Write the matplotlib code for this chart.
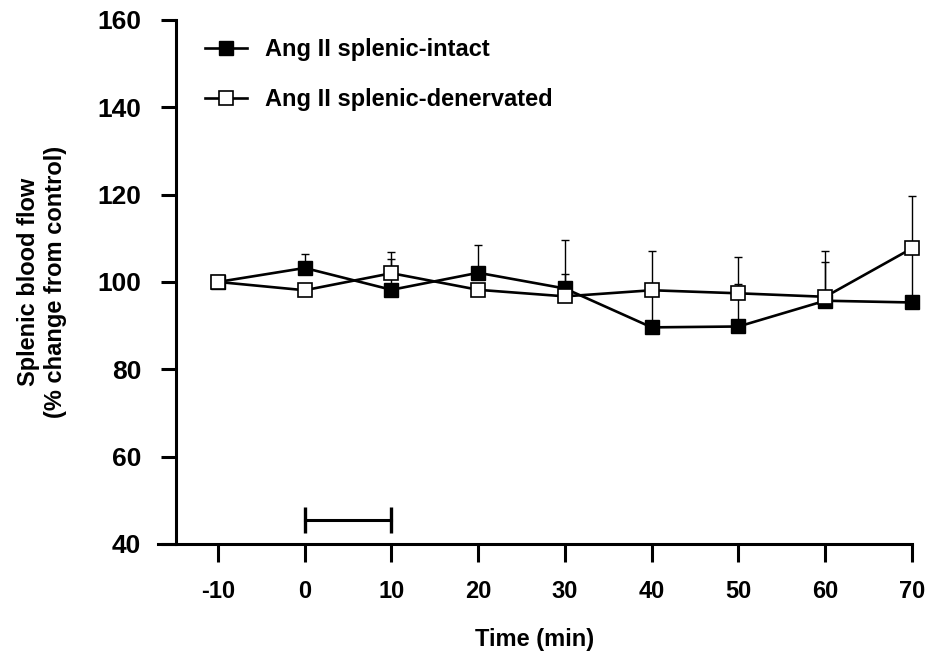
import matplotlib
matplotlib.use("Agg")
import matplotlib.pyplot as plt
import numpy as np

time = [-10, 0, 10, 20, 30, 40, 50, 60, 70]
intact = [100, 103.2, 98.2, 102.1, 98.5, 89.6, 89.8, 95.7, 95.3]
intact_err = [0, 3.2, 7.1, 6.3, 11.1, 8.6, 9.7, 8.9, 12.0]
dener = [100, 98.1, 102.0, 98.2, 96.7, 98.1, 97.4, 96.6, 107.7]
dener_err = [0, 0, 4.8, 0, 5.1, 9.0, 8.3, 10.5, 12.0]
xticks = [-10, 0, 10, 20, 30, 40, 50, 60, 70]
yticks = [40, 60, 80, 100, 120, 140, 160]
bar_x = [0, 10]
bar_y = [45.4, 45.4]

plt.rcParams['font.family'] = ['Liberation Sans', 'DejaVu Sans']
plt.rcParams['font.weight'] = 'bold'
plt.rcParams['axes.unicode_minus'] = False

fig = plt.figure(figsize=(9.32, 6.51), dpi=100)
ax = fig.add_axes([0.1695, 0.1644, 0.809, 0.805])

zeros = np.zeros(len(time))
for vals, errs in [(intact, intact_err), (dener, dener_err)]:
    eb = ax.errorbar(time, vals, yerr=[zeros, errs], fmt='none', ecolor='black',
                     elinewidth=1.0, capsize=3, capthick=1.0, zorder=2)
    for art in list(eb.lines[1]) + list(eb.lines[2]):
        art.set_clip_on(False)

ax.plot(time, intact, color='black', lw=1.9, marker='s', markersize=9.5,
        markerfacecolor='black', markeredgecolor='black', zorder=3,
        label='Ang II splenic-intact', clip_on=False)
ax.plot(time, dener, color='black', lw=1.9, marker='s', markersize=9.5,
        markerfacecolor='white', markeredgecolor='black', markeredgewidth=1.2,
        zorder=4, label='Ang II splenic-denervated', clip_on=False)

ax.plot(bar_x, bar_y, color='black', lw=2.2, marker='|', markersize=19,
        markeredgewidth=2.4, clip_on=False)

ax.set_xlim(-16.92, 70)
ax.set_ylim(40, 160)
ax.spines['left'].set_position(('data', -14.84))
ax.set_xticks(xticks)
ax.set_yticks(yticks)
ax.tick_params(axis='x', direction='out', length=13, width=2.2,
               labelsize=17, pad=13)
ax.tick_params(axis='y', direction='out', length=11, width=2.2,
               labelsize=19, pad=14)
for s in ['top', 'right']:
    ax.spines[s].set_visible(False)
for s in ['left', 'bottom']:
    ax.spines[s].set_linewidth(2.2)

ax.set_xlabel('Time (min)', fontsize=17, fontweight='bold', labelpad=18)
ax.set_ylabel('Splenic blood flow\n(% change from control)', fontsize=17,
              fontweight='bold', labelpad=22)

leg = ax.legend(loc='upper left', bbox_to_anchor=(0.0623, 0.965), frameon=False,
                fontsize=17, handlelength=1.8, labelspacing=1.15,
                handletextpad=0.75, borderpad=0, borderaxespad=0)

fig.savefig('out.png', dpi=100)
